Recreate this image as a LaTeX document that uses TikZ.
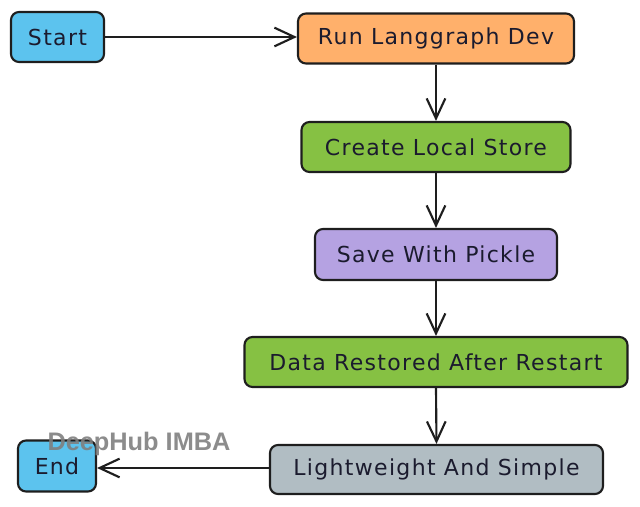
\documentclass[tikz,border=0pt]{standalone}
\usepackage{fontspec}
\setmainfont{DejaVu Sans}[LetterSpace=6]
\newfontfamily\wmfont{Liberation Sans}
\usetikzlibrary{arrows.meta}
\definecolor{cblue}{HTML}{5CC3EE}
\definecolor{corange}{HTML}{FFB06B}
\definecolor{cgreen}{HTML}{86C143}
\definecolor{cpurple}{HTML}{B5A2E2}
\definecolor{cgray}{HTML}{B1BDC3}
\definecolor{cline}{HTML}{1E1E1E}
\definecolor{ctext}{HTML}{1B1B2E}
\definecolor{cwm}{HTML}{7F7F7F}
\tikzset{
  box/.style={draw=cline, line width=1.6pt, rounded corners=6pt, inner sep=0pt,
    font=\fontsize{16.5}{19}\selectfont, text=ctext},
  flow/.style={draw=cline, line width=1.6pt,
    -{Straight Barb[length=15pt,width=14pt,line width=1.6pt]}},
}
\begin{document}
\begin{tikzpicture}[x=0.75pt,y=-0.75pt]
\useasboundingbox (0,0) rectangle (640,507);
\node[box, fill=cblue, minimum width={93*0.75pt}, minimum height={50*0.75pt}] (start) at (57.5,37) {Start};
\node[box, fill=corange, minimum width={276*0.75pt}, minimum height={50*0.75pt}] (run) at (436,38.5) {Run Langgraph Dev};
\node[box, fill=cgreen, minimum width={269*0.75pt}, minimum height={50*0.75pt}] (create) at (436,147) {Create Local Store};
\node[box, fill=cpurple, minimum width={242*0.75pt}, minimum height={51*0.75pt}] (save) at (436,254.5) {Save With Pickle};
\node[box, fill=cgreen, minimum width={383*0.75pt}, minimum height={50*0.75pt}] (data) at (436,362) {Data Restored After Restart};
\node[box, fill=cgray, minimum width={333*0.75pt}, minimum height={49*0.75pt}] (light) at (436.5,469.5) {Lightweight And Simple};
\node[box, fill=cblue, minimum width={78*0.75pt}, minimum height={51*0.75pt}] (end) at (57,466) {End};
\draw[flow] (start.east) -- (start.east -| run.west);
\draw[flow] (run.south) -- (create.north);
\draw[flow] (create.south) -- (save.north);
\draw[flow] (save.south) -- (data.north);
\draw[flow] (data.south) -- (light.north);
\coordinate (endin) at ([yshift=-1.5pt]end.east);
\draw[flow] (endin -| light.west) -- (endin);
\node[font=\wmfont\bfseries\fontsize{19}{22}\selectfont, text=cwm, opacity=0.9, inner sep=0pt] (wm) at (139,444) {DeepHub IMBA};
\end{tikzpicture}
\end{document}
